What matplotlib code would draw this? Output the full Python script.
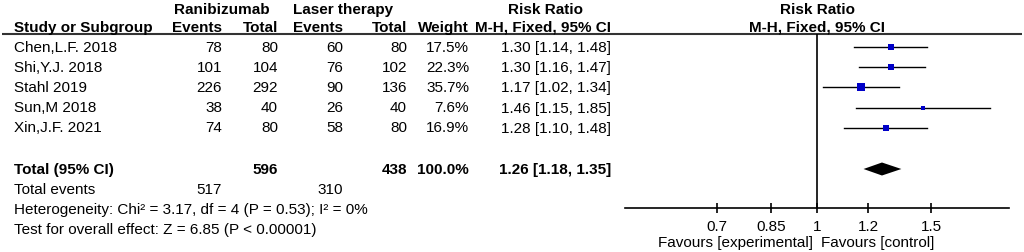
import numpy as np
import matplotlib
matplotlib.use("Agg")
import matplotlib.pyplot as plt
from matplotlib.ticker import FixedLocator, FixedFormatter, NullLocator

plt.rcParams["font.family"] = ["Liberation Sans", "DejaVu Sans"]

# --- data ---
studies = ["Chen,L.F. 2018", "Shi,Y.J. 2018", "Stahl 2019", "Sun,M 2018", "Xin,J.F. 2021"]
rani_events = [78, 101, 226, 38, 74]
rani_total = [80, 104, 292, 40, 80]
laser_events = [60, 76, 90, 26, 58]
laser_total = [80, 102, 136, 40, 80]
weights = [17.5, 22.3, 35.7, 7.6, 16.9]
rr = [1.30, 1.30, 1.17, 1.46, 1.28]
rr_lo = [1.14, 1.16, 1.02, 1.15, 1.10]
rr_hi = [1.48, 1.47, 1.34, 1.85, 1.48]

total_rani = 596
total_laser = 438
events_rani = 517
events_laser = 310
pooled = (1.26, 1.18, 1.35)
heterogeneity = "Heterogeneity: Chi\u00b2 = 3.17, df = 4 (P = 0.53); I\u00b2 = 0%"
overall = "Test for overall effect: Z = 6.85 (P < 0.00001)"
tick_vals = [0.7, 0.85, 1, 1.2, 1.5]
tick_labels = ["0.7", "0.85", "1", "1.2", "1.5"]

# --- layout (pixel units) ---
W, H = 1024, 253
FS = 11
row_y = [47.5, 67.5, 88, 108.5, 128.5]
y_total, y_events, y_het, y_test = 170, 190, 210.5, 230.5
y_rule, y_axis = 35, 209
col_right = [222, 278, 343, 407, 469, 611]

fig = plt.figure(figsize=(W / 100, H / 100), dpi=100)
ax = fig.add_axes([0, 0, 1, 1])
ax.set_xlim(0, W)
ax.set_ylim(H, 0)
ax.axis("off")

# headers
ax.text(222, 10, "Ranibizumab", ha="center", va="center", fontsize=FS, fontweight="bold")
ax.text(343, 10, "Laser therapy", ha="center", va="center", fontsize=FS, fontweight="bold")
ax.text(545, 10, "Risk Ratio", ha="center", va="center", fontsize=FS, fontweight="bold")
ax.text(817, 10, "Risk Ratio", ha="center", va="center", fontsize=FS, fontweight="bold")
ax.text(14, 27.5, "Study or Subgroup", ha="left", va="center", fontsize=FS, fontweight="bold")
for x, lab in zip(col_right, ["Events", "Total", "Events", "Total", "Weight", "M-H, Fixed, 95% CI"]):
    ax.text(x, 27.5, lab, ha="right", va="center", fontsize=FS, fontweight="bold")
ax.text(817, 27.5, "M-H, Fixed, 95% CI", ha="center", va="center", fontsize=FS, fontweight="bold")
ax.plot([2, 1022], [y_rule, y_rule], color="#333333", lw=1.5, solid_capstyle="butt")

# study rows
for i, s in enumerate(studies):
    y = row_y[i]
    ax.text(14, y, s, ha="left", va="center", fontsize=FS)
    vals = [str(rani_events[i]), str(rani_total[i]), str(laser_events[i]), str(laser_total[i]),
            f"{weights[i]:.1f}%", f"{rr[i]:.2f} [{rr_lo[i]:.2f}, {rr_hi[i]:.2f}]"]
    for x, v in zip(col_right, vals):
        ax.text(x, y, v, ha="right", va="center", fontsize=FS)

# totals
ax.text(14, y_total, "Total (95% CI)", ha="left", va="center", fontsize=FS, fontweight="bold")
tot_vals = [str(total_rani), str(total_laser), "100.0%",
            f"{pooled[0]:.2f} [{pooled[1]:.2f}, {pooled[2]:.2f}]"]
for x, v in zip([col_right[1], col_right[3], col_right[4], col_right[5]], tot_vals):
    ax.text(x, y_total, v, ha="right", va="center", fontsize=FS, fontweight="bold")
ax.text(14, y_events, "Total events", ha="left", va="center", fontsize=FS)
ax.text(col_right[0], y_events, str(events_rani), ha="right", va="center", fontsize=FS)
ax.text(col_right[2], y_events, str(events_laser), ha="right", va="center", fontsize=FS)
ax.text(14, y_het, heterogeneity, ha="left", va="center", fontsize=FS)
ax.text(14, y_test, overall, ha="left", va="center", fontsize=FS)

# --- forest panel ---
fx0, fx1 = 625, 1009
fa = fig.add_axes([fx0 / W, 0, (fx1 - fx0) / W, 1])
fa.patch.set_alpha(0)
fa.set_xscale("log")
fa.set_xlim(0.505, 1.98)
fa.set_ylim(H, 0)
for side in ["top", "left", "right"]:
    fa.spines[side].set_visible(False)
fa.spines["bottom"].set_position(("data", y_axis))
fa.spines["bottom"].set_linewidth(1.2)
fa.yaxis.set_visible(False)
fa.xaxis.set_major_locator(FixedLocator(tick_vals))
fa.xaxis.set_major_formatter(FixedFormatter(tick_labels))
fa.xaxis.set_minor_locator(NullLocator())
fa.tick_params(axis="x", direction="inout", length=7.5, width=1.2, labelsize=FS, pad=4)

fa.vlines(1, y_rule, y_axis, color="black", lw=1.2)
for i in range(len(studies)):
    fa.plot([rr_lo[i], rr_hi[i]], [row_y[i], row_y[i]], color="black", lw=1.0)
    side_pt = 1.34 * np.sqrt(weights[i]) * 0.72
    fa.plot(rr[i], row_y[i], marker="s", color="#0000c8", markersize=side_pt, mew=0)

dh = 6.5
fa.fill([pooled[1], pooled[0], pooled[2], pooled[0]],
        [y_total, y_total - dh, y_total, y_total + dh], color="black", lw=0)

fa.text(0.985, 243.5, "Favours [experimental]", ha="right", va="center", fontsize=FS)
fa.text(1.015, 243.5, "Favours [control]", ha="left", va="center", fontsize=FS)

fig.savefig("out.png", dpi=100)
